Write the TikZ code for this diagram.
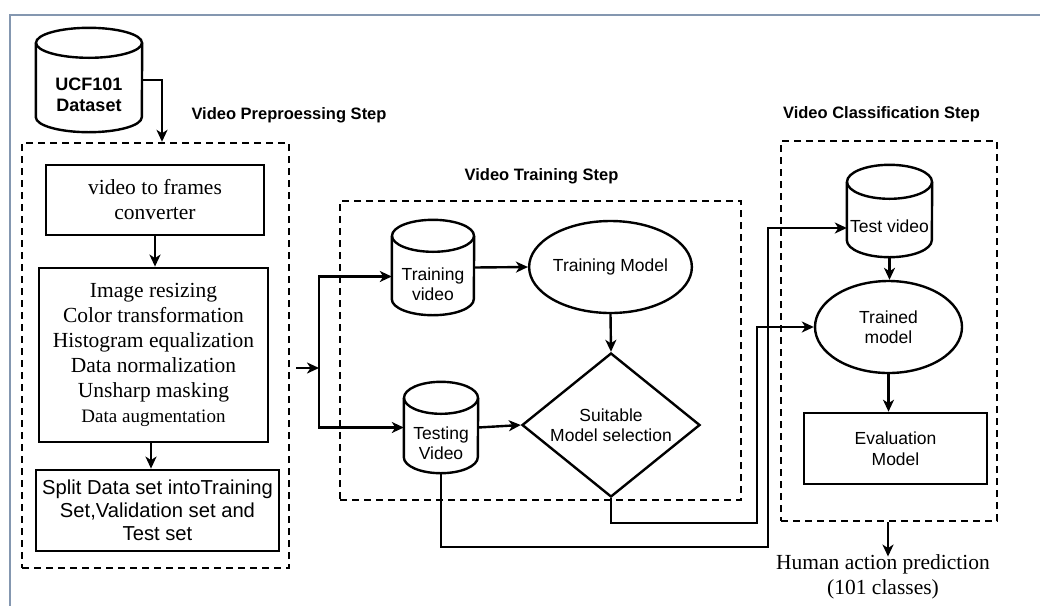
\documentclass[tikz,border=0pt]{standalone}
\usepackage{fontspec}
\setmainfont{Liberation Serif}
\setsansfont{Liberation Sans}
\usetikzlibrary{shapes.geometric,arrows.meta,calc}

% outline of a drum (database) drawn around a named rectangular node
% #1 node name, #2 half width, #3 vertical radius of the end caps
\newcommand\drumoutline[3]{%
  \draw[drumline] ($(#1.north west)+(0,#3)$) -- ($(#1.south west)-(0,#3)$)
    arc[start angle=180, end angle=360, x radius=#2pt, y radius=#3pt]
    -- ($(#1.north east)+(0,#3)$);
  \draw[drumline] ($(#1.north)+(0,#3)$) ellipse[x radius=#2pt, y radius=#3pt];
}

\tikzset{
  framecol/.style={draw={rgb,255:red,132;green,151;blue,176}, line width=2.2pt},
  serifbox/.style={draw, line width=2.8pt, rectangle, inner sep=0pt, align=center,
    font=\fontsize{21.5}{25}\selectfont},
  sansbox/.style={draw, line width=2.8pt, rectangle, inner sep=0pt, align=center,
    font=\sffamily\fontsize{17.5}{20.5}\selectfont},
  drum/.style={rectangle, inner sep=0pt},
  drumline/.style={line width=2.4pt},
  drumtext/.style={align=center, inner sep=0pt, font=\sffamily\fontsize{17.5}{20.5}\selectfont},
  oval/.style={ellipse, draw, line width=2.4pt, inner sep=0pt, align=center,
    font=\sffamily\fontsize{17.5}{20.5}\selectfont},
  choice/.style={diamond, draw, line width=2.4pt, inner sep=0pt, aspect=1.236, align=center,
    font=\sffamily\fontsize{17.5}{20.5}\selectfont},
  stage/.style={draw, dash pattern=on 7pt off 5pt, line width=2.4pt, rectangle, inner sep=0pt},
  heading/.style={font=\sffamily\bfseries\fontsize{16.5}{20}\selectfont, inner sep=0pt},
  arr/.style={line width=2.4pt, -{Stealth[length=12pt, width=11pt, inset=3.5pt]}},
}

\begin{document}
\begin{tikzpicture}[x=1pt, y=-1pt]
\useasboundingbox (0,0) rectangle (1040,606);

% page frame
\draw[framecol] (1040,15) -- (10,15) -- (10,606);

% ---------- dataset ----------
\node[drum, minimum width=106pt, minimum height=104pt] (ucf) at (89,80) {};
\drumoutline{ucf}{53}{15}
\node[drumtext, font=\sffamily\bfseries\fontsize{18}{20.5}\selectfont] at ($(ucf.center)+(0,15)$) {UCF101\\Dataset};

% ---------- preprocessing stage ----------
\node[stage, minimum width=267pt, minimum height=425pt] (pre) at (155.5,355.5) {};
\node[heading] (preh) at (289,115) {Video Preproessing Step};

\node[serifbox, minimum width=218pt, minimum height=70pt] (v2f) at (155,200)
  {video to frames\\converter};
\node[serifbox, minimum width=229pt, minimum height=174pt] (proc) at (153.5,355)
  {Image resizing\\Color transformation\\Histogram equalization\\Data normalization\\Unsharp masking\\{\fontsize{19}{22}\selectfont Data augmentation}};
\node[sansbox, font=\sffamily\fontsize{20.2}{23}\selectfont, minimum width=243pt, minimum height=81pt] (split) at (157.5,510.5)
  {Split Data set intoTraining\\Set,Validation set and\\Test set};

\draw[arr] (ucf.east) -| ($(pre.north)+(6.5,0)$);
\draw[arr] (v2f.south) -- (v2f.south |- proc.north);
\draw[arr] ($(proc.south)+(-2.5,0)$) -- ($(proc.south |- split.north)+(-2.5,0)$);

% ---------- training stage ----------
\node[stage, minimum width=401pt, minimum height=299pt] (mid) at (540.5,350.5) {};
\node[heading] (midh) at (541.5,176) {Video Training Step};

\node[drum, minimum width=82pt, minimum height=95pt] (trv) at (433,267.5) {};
\drumoutline{trv}{41}{16}
\node[drumtext] at ($(trv.center)+(0,16.5)$) {Training\\video};

\node[drum, minimum width=74pt, minimum height=91pt] (tsv) at (441,427.5) {};
\drumoutline{tsv}{37}{16}
\node[drumtext] at ($(tsv.center)+(0,15.5)$) {Testing\\Video};

\node[oval, minimum width=147pt, minimum height=92pt] (trm) at (610.5,267) {Training Model};
\node[choice, minimum width=178pt, minimum height=144pt] (sel) at (611,425) {Suitable\\Model selection};

\coordinate (fork) at (319,368);
\draw[arr] ($(pre.east |- fork)+(6,0)$) -- (fork);
\draw[arr] (fork) |- ($(trv.west)+(0,9)$);
\draw[arr] (fork) |- (tsv.west);
\draw[arr] (trv.east) -- (trm.west);
\draw[arr] (trm.south) -- (sel.north);
\draw[arr] (tsv.east) -- (sel.west);

% ---------- classification stage ----------
\node[stage, minimum width=216pt, minimum height=380pt] (cls) at (889,331) {};
\node[heading] (clsh) at (881.5,114) {Video Classification Step};

\node[drum, minimum width=85pt, minimum height=92pt] (testv) at (889.5,211) {};
\drumoutline{testv}{42.5}{17}
\node[drumtext] at ($(testv.center)+(0,15)$) {Test video};

\node[oval, minimum width=147pt, minimum height=92pt] (trd) at (888.5,327) {Trained\\model};
\node[sansbox, line width=2.6pt, minimum width=183pt, minimum height=71pt] (eval) at (895.5,448.5)
  {Evaluation\\Model};

\draw[arr] (testv.south) -- (testv.south |- trd.north);
\draw[arr] (trd.south) -- (trd.south |- eval.north);

% links from the training stage into the classification stage
\draw[arr] (tsv.south) |- (768,547) |- ($(testv.west)+(0,17)$);
\draw[arr] (sel.south) |- (757,523) |- (trd.west);

% ---------- output ----------
\node[align=center, inner sep=0pt, font=\fontsize{21.5}{25}\selectfont] (pred) at (883,577)
  {Human action prediction\\(101 classes)};
\draw[arr] ($(cls.south)+(-1,0)$) -- ($(cls.south |- pred.north)+(-1,2)$);
\end{tikzpicture}
\end{document}
